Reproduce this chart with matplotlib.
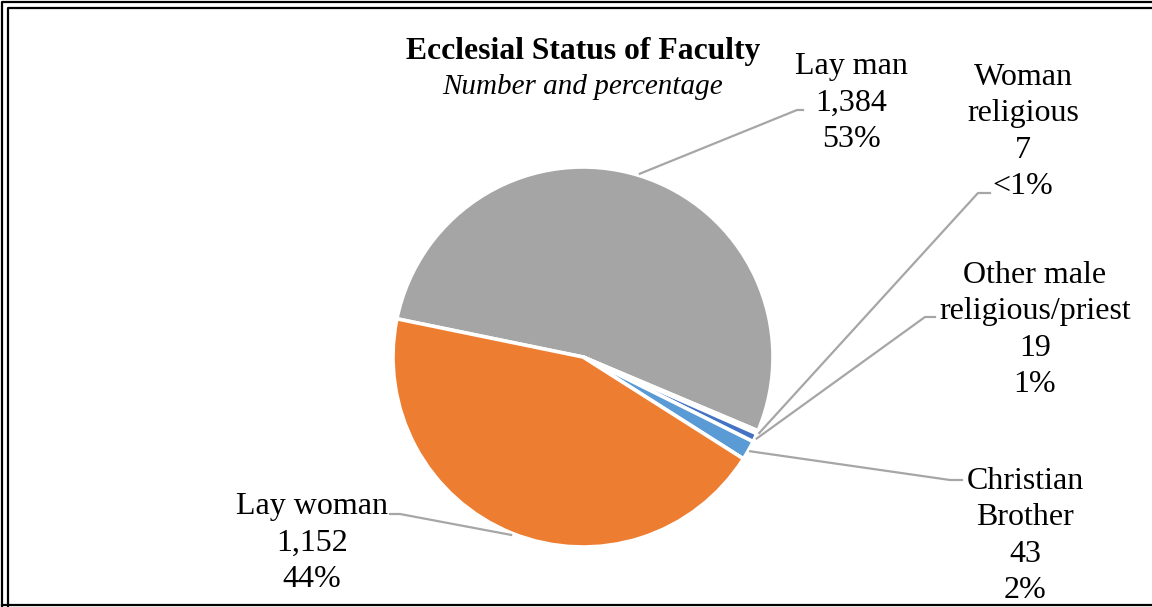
import numpy as np
import matplotlib
matplotlib.use("Agg")
import matplotlib.pyplot as plt
from matplotlib.lines import Line2D

categories = ["Lay man", "Woman religious", "Other male religious/priest", "Christian Brother", "Lay woman"]
counts = [1384, 7, 19, 43, 1152]
pct_labels = ["53%", "<1%", "1%", "2%", "44%"]
count_labels = ["1,384", "7", "19", "43", "1,152"]
label_names = ["Lay man", "Woman\nreligious", "Other male\nreligious/priest", "Christian\nBrother", "Lay woman"]
colors = ["#A5A5A5", "#4472C4", "#4472C4", "#5B9BD5", "#ED7D31"]

W, H = 1152, 607
fig = plt.figure(figsize=(W / 100, H / 100), dpi=100)
plt.rcParams['font.family'] = ['Liberation Serif', 'DejaVu Serif']

def P(x, y):
    return (x / W, 1 - y / H)

cx, cy, R = 583, 357, 190
ax = fig.add_axes([(cx - R) / W, (H - cy - R) / H, 2 * R / W, 2 * R / H])
start = 168.4
wedges, _ = ax.pie(counts, colors=colors, startangle=start, counterclock=False,
                   wedgeprops=dict(edgecolor="white", linewidth=2.6))
ax.set_xlim(-1, 1)
ax.set_ylim(-1, 1)
ax.set_aspect('auto')
ax.axis('off')

# leader geometry (layout, pixels)
label_pos = [(851, 103), (1023, 132), (1035, 330), (1025, 536), (312, 543)]
elbow = [[(797, 110), (803, 110)],
         [(978, 193), (990, 193)],
         [(925, 317), (935, 317)],
         [(950, 480), (962, 480)],
         [(400, 514), (390, 514)]]

total = sum(counts)
ang = start
for i, c in enumerate(counts):
    span = 360 * c / total
    mid = np.deg2rad(ang - span / 2)
    ang -= span
    r = R * 1.01
    ax_pt = (cx + r * np.cos(mid), cy - r * np.sin(mid))
    pts = [ax_pt] + elbow[i]
    xs = [p[0] / W for p in pts]
    ys = [1 - p[1] / H for p in pts]
    fig.add_artist(Line2D(xs, ys, color="#A6A6A6", lw=1.6, transform=fig.transFigure))
    txt = f"{label_names[i]}\n{count_labels[i]}\n{pct_labels[i]}"
    fig.text(*P(*label_pos[i]), txt, ha="center", va="center", fontsize=23,
             linespacing=1.32, color="black")

fig.text(*P(583, 52), "Ecclesial Status of Faculty", ha="center", va="center",
         fontsize=22.8, fontweight="bold")
fig.text(*P(583, 87), "Number and percentage", ha="center", va="center",
         fontsize=21, style="italic")

# double frame
for pts in ([(2, 700), (2, 2), (1200, 2)], [(8, 700), (8, 8), (1200, 8)], [(2, 605), (1200, 605)]):
    xs = [p[0] / W for p in pts]
    ys = [1 - p[1] / H for p in pts]
    fig.add_artist(Line2D(xs, ys, color="black", lw=1.6, transform=fig.transFigure))

fig.savefig("out.png", dpi=100)
